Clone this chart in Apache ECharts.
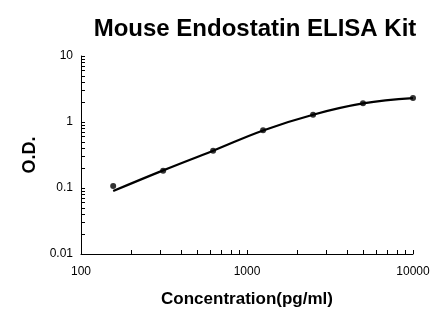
<!DOCTYPE html>
<html><head><meta charset="utf-8">
<script src="https://cdn.jsdelivr.net/npm/echarts@6/dist/echarts.min.js"></script>
<style>html,body{margin:0;padding:0;background:#fff}#c{width:446px;height:326px}</style>
</head><body><div id="c"></div>
<script>
const titleText = "Mouse Endostatin ELISA Kit";
const xName = "Concentration(pg/ml)";
const yName = "O.D.";
const concentrations = [156.25, 312.5, 625, 1250, 2500, 5000, 10000];
const odValues = [0.107, 0.183, 0.367, 0.748, 1.29, 1.92, 2.31];
const fitX = [156.25, 312.5, 625, 1250, 2500, 5000, 10000];
const fitY = [0.090, 0.185, 0.368, 0.745, 1.29, 1.91, 2.30];
const xTicks = [100,200,300,400,500,600,700,800,900,1000,2000,3000,4000,5000,6000,7000,8000,9000,10000];
const yTicks = [0.01,0.02,0.03,0.04,0.05,0.06,0.07,0.08,0.09,0.1,0.2,0.3,0.4,0.5,0.6,0.7,0.8,0.9,1,2,3,4,5,6,7,8,9,10];
const xLabels = [100, 1000, 10000];
const yLabels = [0.01, 0.1, 1, 10];

const chart = echarts.init(document.getElementById('c'));
const font = 'Liberation Sans, Arial, sans-serif';
chart.setOption({
  animation: false,
  title: {text: titleText, left: 250, top: 12, textAlign: 'center',
    textStyle: {fontFamily: font, fontWeight: 'bold', fontSize: 24, color: '#000'}},
  grid: {left: 81, right: 33, top: 56, bottom: 72},
  xAxis: {type: 'log', logBase: 10, min: 100, max: 10000,
    name: xName, nameLocation: 'middle', nameGap: 37,
    nameTextStyle: {fontFamily: font, fontWeight: 'bold', fontSize: 17, color: '#000'},
    axisLine: {lineStyle: {color: '#000', width: 1}},
    axisTick: {inside: true, length: 4, customValues: xTicks, lineStyle: {color: '#000'}},
    axisLabel: {customValues: xLabels, margin: 12, fontFamily: font, fontSize: 12, color: '#000',
      formatter: v => String(v)},
    splitLine: {show: false}},
  yAxis: {type: 'log', logBase: 10, min: 0.01, max: 10,
    name: yName, nameLocation: 'middle', nameGap: 36,
    nameTextStyle: {fontFamily: font, fontWeight: 'bold', fontSize: 18, color: '#000'},
    axisLine: {show: true, lineStyle: {color: '#000', width: 1}},
    axisTick: {show: true, inside: true, length: 4, customValues: yTicks, lineStyle: {color: '#000'}},
    axisLabel: {customValues: yLabels, margin: 8, fontFamily: font, fontSize: 12, color: '#000',
      formatter: v => String(+v.toPrecision(3))},
    splitLine: {show: false}},
  series: [
    {type: 'line', data: fitX.map((x, i) => [x, fitY[i]]), smooth: 0.4, showSymbol: false,
      lineStyle: {color: '#000', width: 2.2}, z: 2},
    {type: 'scatter', data: concentrations.map((x, i) => [x, odValues[i]]), symbol: 'circle',
      symbolSize: 6, itemStyle: {color: '#000'}, z: 3}
  ]
});
</script></body></html>
